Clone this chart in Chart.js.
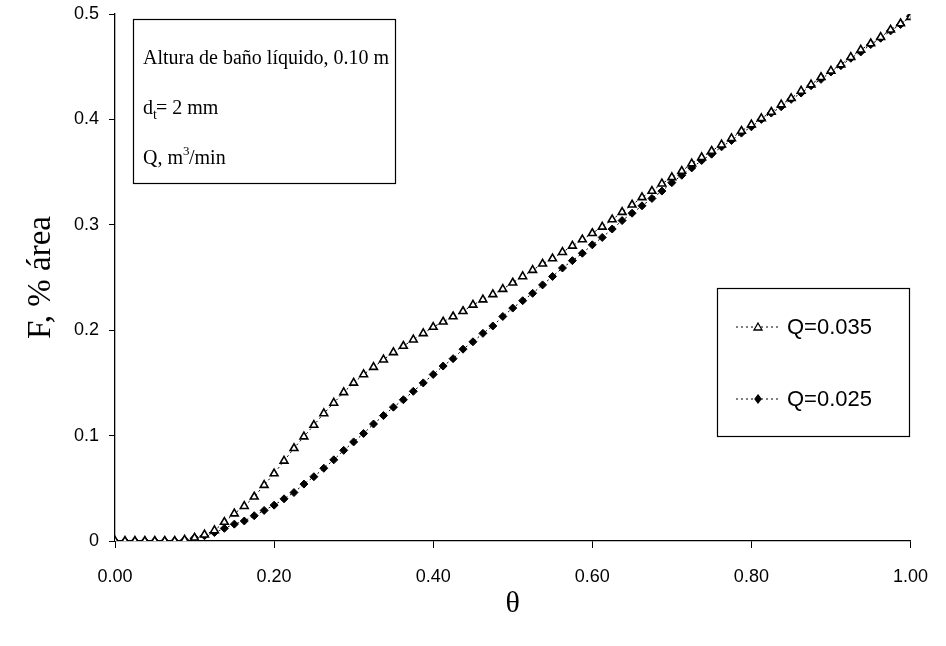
<!DOCTYPE html>
<html>
<head>
<meta charset="utf-8">
<script src="https://cdn.jsdelivr.net/npm/chart.js@4.4.0/dist/chart.umd.min.js"></script>
<style>
  html, body { margin: 0; padding: 0; background: #fff; }
  #wrap { width: 946px; height: 646px; }
</style>
</head>
<body>
<div id="wrap"><canvas id="myChart" width="946" height="646"></canvas></div>
<script>
// theta values (dimensionless time)
var theta = [
  0, 0.0125, 0.025, 0.0375, 0.05, 0.0625, 0.075, 0.0875, 0.1, 0.1125,
  0.125, 0.1375, 0.15, 0.1625, 0.175, 0.1875, 0.2, 0.2125, 0.225, 0.2375,
  0.25, 0.2625, 0.275, 0.2875, 0.3, 0.3125, 0.325, 0.3375, 0.35, 0.3625,
  0.375, 0.3875, 0.4, 0.4125, 0.425, 0.4375, 0.45, 0.4625, 0.475, 0.4875,
  0.5, 0.5125, 0.525, 0.5375, 0.55, 0.5625, 0.575, 0.5875, 0.6, 0.6125,
  0.625, 0.6375, 0.65, 0.6625, 0.675, 0.6875, 0.7, 0.7125, 0.725, 0.7375,
  0.75, 0.7625, 0.775, 0.7875, 0.8, 0.8125, 0.825, 0.8375, 0.85, 0.8625,
  0.875, 0.8875, 0.9, 0.9125, 0.925, 0.9375, 0.95, 0.9625, 0.975, 0.9875,
  1.0
];

// F, % area  for Q = 0.035
var q035 = [
  0, 0, 0, 0, 0, 0, 0, 0.001, 0.003, 0.006,
  0.010, 0.018, 0.026, 0.033, 0.042, 0.053, 0.064, 0.076, 0.088, 0.099,
  0.110, 0.121, 0.131, 0.141, 0.150, 0.158, 0.165, 0.172, 0.179, 0.185,
  0.191, 0.197, 0.203, 0.208, 0.213, 0.218, 0.224, 0.229, 0.234, 0.239,
  0.245, 0.251, 0.257, 0.263, 0.268, 0.274, 0.280, 0.286, 0.292, 0.298,
  0.305, 0.312, 0.319, 0.326, 0.332, 0.339, 0.345, 0.351, 0.358, 0.364,
  0.370, 0.376, 0.382, 0.389, 0.395, 0.401, 0.407, 0.414, 0.420, 0.427,
  0.433, 0.440, 0.446, 0.452, 0.459, 0.466, 0.472, 0.478, 0.485, 0.491,
  0.497
];

// F, % area  for Q = 0.025
var q025 = [
  0, 0, 0, 0, 0, 0, 0, 0.001, 0.003, 0.005,
  0.008, 0.012, 0.016, 0.019, 0.024, 0.029, 0.034, 0.040, 0.046, 0.054,
  0.061, 0.069, 0.077, 0.086, 0.094, 0.102, 0.111, 0.119, 0.127, 0.134,
  0.142, 0.150, 0.158, 0.166, 0.173, 0.182, 0.189, 0.197, 0.204, 0.213,
  0.221, 0.228, 0.235, 0.243, 0.251, 0.259, 0.266, 0.273, 0.281, 0.288,
  0.296, 0.304, 0.311, 0.318, 0.325, 0.332, 0.340, 0.347, 0.354, 0.361,
  0.367, 0.374, 0.380, 0.387, 0.393, 0.400, 0.406, 0.412, 0.419, 0.425,
  0.432, 0.438, 0.445, 0.451, 0.458, 0.464, 0.471, 0.477, 0.484, 0.490,
  0.498
];

var xTicks = [0, 0.2, 0.4, 0.6, 0.8, 1.0];
var yTicks = [0, 0.1, 0.2, 0.3, 0.4, 0.5];
var seriesNames = ["Q=0.035", "Q=0.025"];
var infoLines = ["Altura de baño líquido, 0.10 m", "d", "Q, m"];

function toPoints(xs, ys) {
  return xs.map(function (x, i) { return { x: x, y: ys[i] }; });
}

var serif = "'Liberation Serif', 'Times New Roman', serif";

// text box in the upper left and legend box on the right
var boxesPlugin = {
  id: "boxes",
  afterDraw: function (chart) {
    var ctx = chart.ctx;
    ctx.save();
    ctx.strokeStyle = "#000";
    ctx.lineWidth = 1.2;
    ctx.fillStyle = "#000";

    // info box
    ctx.strokeRect(133.5, 19.5, 262, 164);
    ctx.font = "20px " + serif;
    ctx.textAlign = "left";
    ctx.textBaseline = "alphabetic";
    ctx.fillText(infoLines[0], 143, 64);
    ctx.fillText(infoLines[1], 143, 114);
    var w = ctx.measureText("d").width;
    ctx.font = "14px " + serif;
    ctx.fillText("t", 143 + w, 119);
    ctx.font = "20px " + serif;
    ctx.fillText("= 2 mm", 143 + w + 3, 114);
    ctx.fillText(infoLines[2], 143, 164);
    var w2 = ctx.measureText(infoLines[2]).width;
    ctx.font = "13px " + serif;
    ctx.fillText("3", 143 + w2, 155);
    ctx.font = "20px " + serif;
    ctx.fillText("/min", 143 + w2 + 6, 164);

    // legend
    ctx.strokeRect(717.5, 288.5, 192, 148);
    var rows = [327, 399];
    ctx.font = "22px 'Liberation Sans', Arial, sans-serif";
    ctx.textBaseline = "middle";
    chart.data.datasets.forEach(function (ds, i) {
      var y = rows[i];
      ctx.save();
      ctx.setLineDash([2, 3]);
      ctx.lineWidth = 1.2;
      ctx.beginPath();
      ctx.moveTo(736, y);
      ctx.lineTo(780, y);
      ctx.stroke();
      ctx.restore();
      ctx.save();
      ctx.lineWidth = 1.3;
      ctx.fillStyle = ds.pointBackgroundColor;
      ctx.strokeStyle = "#000";
      ctx.beginPath();
      if (ds.pointStyle === "triangle") {
        ctx.moveTo(758, y - 4);
        ctx.lineTo(762, y + 3);
        ctx.lineTo(754, y + 3);
      } else {
        ctx.moveTo(758, y - 4);
        ctx.lineTo(761, y);
        ctx.lineTo(758, y + 4);
        ctx.lineTo(755, y);
      }
      ctx.closePath();
      ctx.fill();
      ctx.stroke();
      ctx.restore();
      ctx.fillStyle = "#000";
      ctx.fillText(seriesNames[i], 787, y + 1);
    });
    ctx.restore();
  }
};

var ctx = document.getElementById("myChart").getContext("2d");
var myChart = new Chart(ctx, {
  type: "line",
  data: {
    datasets: [
      {
        label: seriesNames[0],
        data: toPoints(theta, q035),
        borderColor: "#000",
        borderWidth: 1,
        borderDash: [2, 3],
        pointStyle: "triangle",
        pointRadius: 4.5,
        pointBackgroundColor: "#fff",
        pointBorderColor: "#000",
        pointBorderWidth: 1.6,
        fill: false,
        tension: 0
      },
      {
        label: seriesNames[1],
        data: toPoints(theta, q025),
        borderColor: "#000",
        borderWidth: 1,
        borderDash: [2, 3],
        pointStyle: "rectRot",
        pointRadius: 4,
        pointBackgroundColor: "#000",
        pointBorderColor: "#000",
        pointBorderWidth: 1,
        fill: false,
        tension: 0
      }
    ]
  },
  options: {
    responsive: false,
    animation: false,
    layout: { padding: { top: 14, right: 34, left: 0, bottom: 0 } },
    plugins: {
      legend: { display: false },
      tooltip: { enabled: false }
    },
    scales: {
      x: {
        type: "linear",
        min: 0,
        max: 1,
        afterBuildTicks: function (s) {
          s.ticks = xTicks.map(function (v) { return { value: v }; });
        },
        afterFit: function (s) { s.height = 105; },
        ticks: {
          color: "#000",
          font: { family: "'Liberation Sans', Arial, sans-serif", size: 18 },
          padding: 18,
          maxRotation: 0,
          callback: function (v) { return v.toFixed(2); }
        },
        grid: { drawOnChartArea: false, color: "#000", tickLength: 7, lineWidth: 1 },
        border: { color: "#000", width: 1.3 },
        title: {
          display: true,
          text: "θ",
          color: "#000",
          font: { family: serif, size: 30 },
          padding: { top: 0, bottom: 24 }
        }
      },
      y: {
        type: "linear",
        min: 0,
        max: 0.5,
        afterBuildTicks: function (s) {
          s.ticks = yTicks.map(function (v) { return { value: v }; });
        },
        afterFit: function (s) {
          s.width = 115;
          s.paddingTop = 0;
          s.paddingBottom = 0;
        },
        ticks: {
          color: "#000",
          font: { family: "'Liberation Sans', Arial, sans-serif", size: 18 },
          padding: 10,
          callback: function (v) { return v === 0 ? "0" : v.toFixed(1); }
        },
        grid: { drawOnChartArea: false, color: "#000", tickLength: 6, lineWidth: 1 },
        border: { color: "#000", width: 1.3 },
        title: {
          display: true,
          text: "F, % área",
          color: "#000",
          font: { family: serif, size: 33 },
          padding: { top: 22, bottom: 0 }
        }
      }
    }
  },
  plugins: [boxesPlugin]
});
</script>
</body>
</html>
